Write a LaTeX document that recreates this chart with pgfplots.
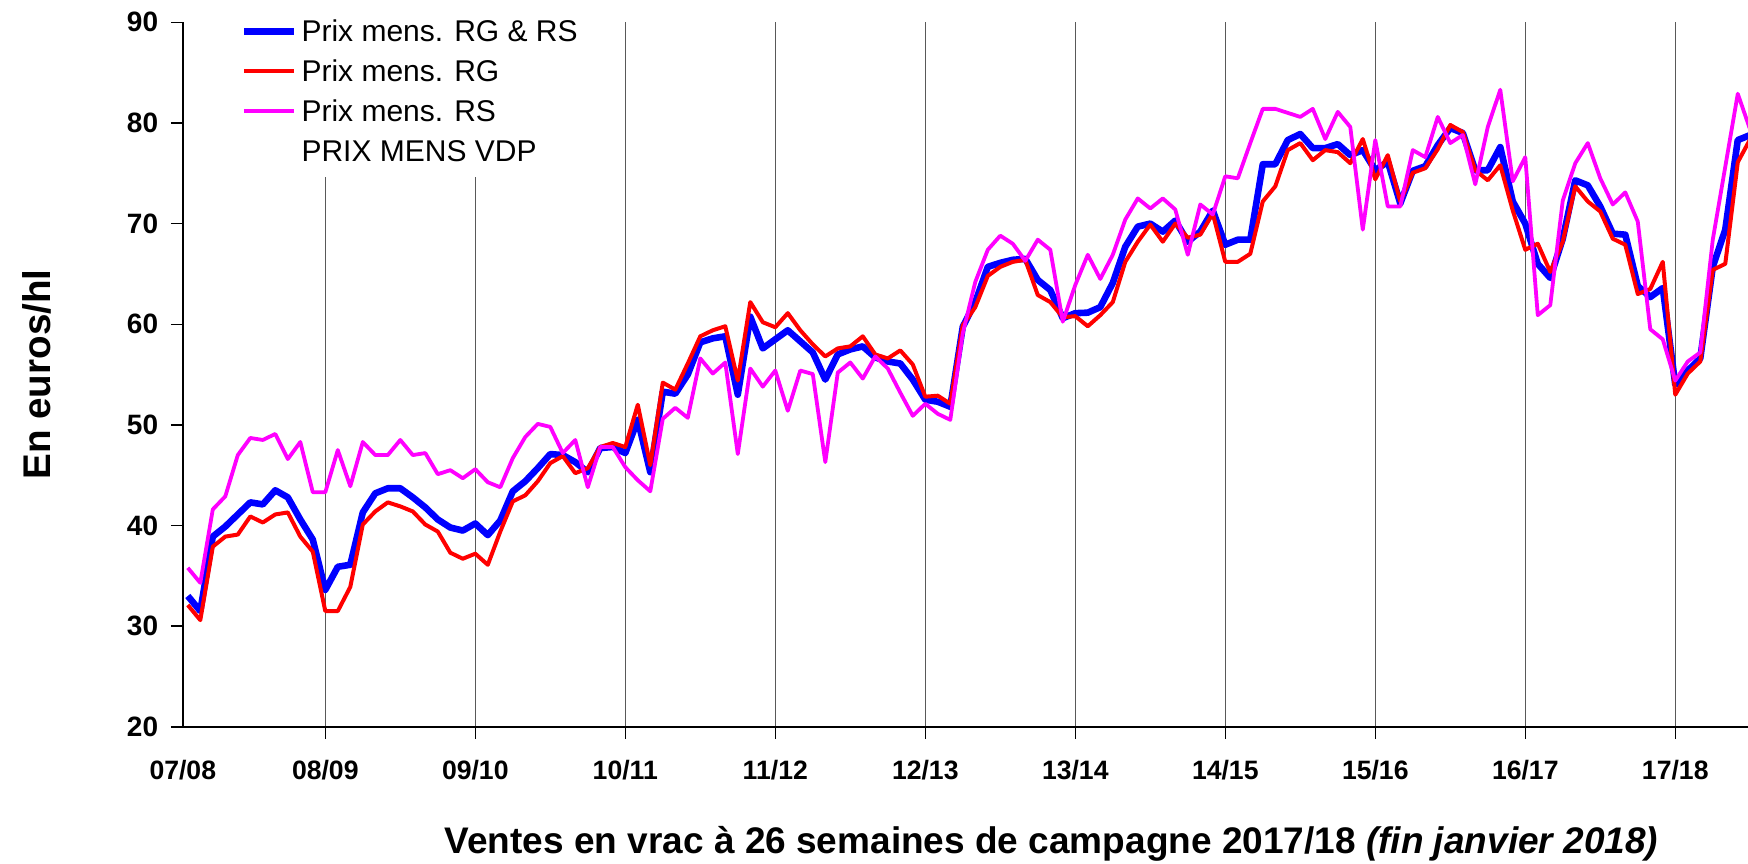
\documentclass[border=0pt]{standalone}
\usepackage{fontspec}
\setmainfont{Liberation Sans}
\usepackage{pgfplots}
\usepackage{pgfplotstable}
\pgfplotsset{compat=1.18}
\definecolor{cblue}{RGB}{0,0,255}
\definecolor{cred}{RGB}{255,0,0}
\definecolor{cmag}{RGB}{255,0,255}

\pgfplotstableread{
x b r m
1 33.0 32.1 35.8
2 31.5 30.6 34.3
3 38.9 37.9 41.6
4 39.9 38.9 42.9
5 41.1 39.1 47.0
6 42.3 40.9 48.7
7 42.1 40.3 48.5
8 43.5 41.1 49.1
9 42.8 41.3 46.6
10 40.6 38.9 48.3
11 38.6 37.4 43.3
12 33.6 31.5 43.3
13 35.9 31.5 47.5
14 36.1 33.9 43.9
15 41.3 40.1 48.3
16 43.2 41.4 47.0
17 43.7 42.3 47.0
18 43.7 41.9 48.5
19 42.8 41.4 47.0
20 41.8 40.1 47.2
21 40.6 39.4 45.1
22 39.8 37.3 45.5
23 39.5 36.7 44.7
24 40.2 37.2 45.6
25 39.05 36.1 44.3
26 40.5 39.4 43.8
27 43.4 42.4 46.7
28 44.4 43.0 48.8
29 45.7 44.4 50.1
30 47.1 46.2 49.8
31 47.0 46.9 47.2
32 46.3 45.2 48.5
33 45.3 45.7 43.8
34 47.7 47.8 47.8
35 47.8 48.2 47.8
36 47.2 47.8 45.8
37 50.5 52.0 44.5
38 45.3 46.0 43.4
39 53.3 54.2 50.6
40 53.1 53.5 51.7
41 55.0 56.1 50.7
42 58.2 58.8 56.6
43 58.6 59.4 55.1
44 58.8 59.8 56.2
45 53.0 54.4 47.1
46 60.75 62.2 55.6
47 57.6 60.2 53.8
48 58.5 59.7 55.4
49 59.4 61.1 51.4
50 58.3 59.4 55.4
51 57.2 58.0 55.05
52 54.5 56.8 46.3
53 57.0 57.6 55.2
54 57.5 57.8 56.2
55 57.8 58.8 54.6
56 56.7 57.0 56.8
57 56.3 56.6 55.6
58 56.1 57.4 53.2
59 54.5 56.0 50.9
60 52.5 52.8 52.1
61 52.3 52.9 51.1
62 51.8 52.1 50.5
63 59.75 59.9 59.1
64 62.2 61.7 64.2
65 65.7 64.8 67.4
66 66.1 65.7 68.8
67 66.4 66.2 68.0
68 66.5 66.4 66.3
69 64.4 62.9 68.4
70 63.4 62.2 67.4
71 60.6 60.7 60.25
72 61.1 60.8 63.9
73 61.15 59.8 66.9
74 61.7 60.9 64.5
75 64.1 62.2 66.9
76 67.7 66.2 70.4
77 69.7 68.2 72.5
78 70.0 69.9 71.5
79 69.2 68.2 72.5
80 70.3 70.0 71.4
81 68.2 68.6 66.9
82 69.2 68.9 71.9
83 71.3 71.0 70.9
84 67.9 66.2 74.7
85 68.4 66.2 74.5
86 68.4 67.0 78.0
87 75.9 72.2 81.4
88 75.9 73.7 81.4
89 78.3 77.3 81.0
90 78.9 78.0 80.6
91 77.5 76.3 81.4
92 77.5 77.3 78.4
93 77.9 77.1 81.1
94 76.8 76.0 79.6
95 77.3 78.4 69.4
96 75.3 74.4 78.3
97 76.15 76.8 71.7
98 72.0 72.2 71.7
99 75.25 75.05 77.3
100 75.7 75.5 76.6
101 77.8 77.4 80.6
102 79.5 79.8 78.0
103 79.0 79.1 78.8
104 75.3 75.3 73.9
105 75.3 74.3 79.6
106 77.6 75.8 83.3
107 72.2 71.3 74.2
108 70.0 67.4 76.6
109 66.0 68.0 60.9
110 64.6 65.2 61.9
111 68.5 68.2 72.3
112 74.3 73.7 76.0
113 73.8 72.2 78.0
114 71.7 71.2 74.5
115 69.0 68.5 71.9
116 68.9 67.9 73.1
117 63.8 63.0 70.2
118 62.7 63.5 59.5
119 63.6 66.2 58.5
120 54.0 53.0 54.4
121 55.4 55.1 56.3
122 56.6 56.3 57.2
123 65.7 65.4 68.4
124 69.4 66.0 75.65
125 78.3 76.1 82.9
126 78.8 78.4 79.3
}\prices

\begin{document}
\begin{tikzpicture}
\useasboundingbox (0,0) rectangle (874pt,431.5pt);
\begin{axis}[
  at={(91.4pt,68.1pt)}, anchor=south west,
  scale only axis, width=782.6pt, height=352.25pt,
  xmin=0.6, xmax=125.82, ymin=20, ymax=90,
  axis x line*=bottom, axis y line*=left,
  axis line style={-, line width=1pt, black},
  tick align=outside, major tick length=6pt,
  tick style={black, line width=0.7pt},
  ytick={20,30,...,90},
  xtick={12,24,...,120},
  xticklabels={08/09,09/10,10/11,11/12,12/13,13/14,14/15,15/16,16/17,17/18},
  extra x ticks={0.6}, extra x tick labels={07/08},
  extra x tick style={grid=none, major tick style={draw=none}},
  xmajorgrids, major x grid style={black!65, line width=0.5pt},
  /pgf/number format/assume math mode=true,
  yticklabel style={font=\bfseries\fontsize{14}{16}\selectfont, xshift=-2.8pt},
  xticklabel style={font=\bfseries\fontsize{13.3}{16}\selectfont, yshift=-7pt},
  xlabel={Ventes en vrac à 26 semaines de campagne 2017/18 \textit{(fin janvier 2018)}},
  xlabel style={font=\bfseries\fontsize{18.5}{21}\selectfont, at={(axis description cs:0.555,-0.1664)}, anchor=center},
  ylabel={En euros/hl},
  ylabel style={font=\bfseries\fontsize{19.3}{22}\selectfont, at={(axis description cs:-0.0932,0.5)}, anchor=center},
  legend style={at={(axis description cs:0.0305,1.0185)}, anchor=north west, draw=none, fill=white,
    font=\fontsize{15}{17}\selectfont, inner xsep=5pt, inner ysep=5pt, row sep=5.9pt, column sep=2pt,
    nodes={inner sep=0pt, text height=11pt, text depth=3pt}},
  legend cell align=left,
  legend image code/.code={\draw[#1] (0pt,1.1pt) -- (25pt,1.1pt);},
]
\addplot[cblue, line width=3.3pt, line join=round, mark=none] table[x=x,y=b]{\prices};
\addlegendentry{Prix mens. RG \& RS}
\addplot[cred, line width=2pt, line join=round, mark=none] table[x=x,y=r]{\prices};
\addlegendentry{Prix mens. RG}
\addplot[cmag, line width=1.9pt, line join=round, mark=none] table[x=x,y=m]{\prices};
\addlegendentry{Prix mens. RS}
\addlegendimage{draw opacity=0}
\addlegendentry{PRIX MENS VDP}
\end{axis}
\end{tikzpicture}
\end{document}
